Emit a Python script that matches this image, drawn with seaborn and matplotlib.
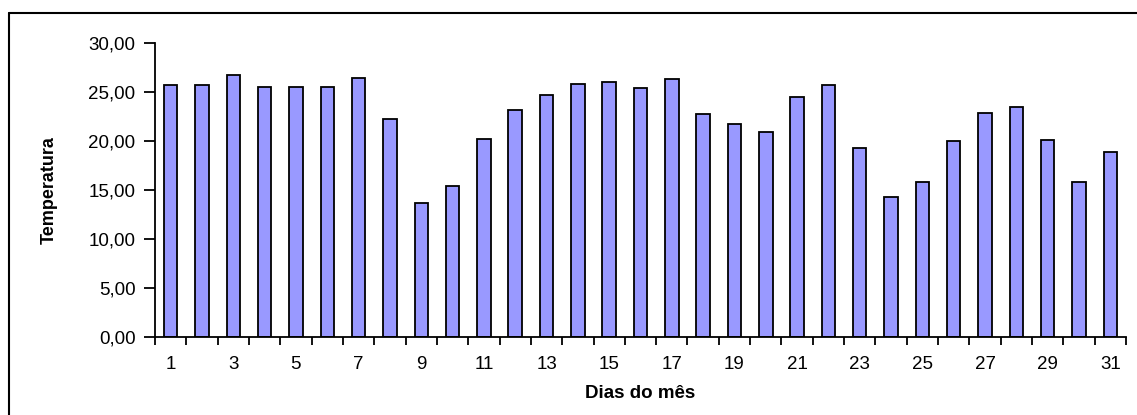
import matplotlib
matplotlib.use('Agg')
import matplotlib.pyplot as plt
import matplotlib.lines as mlines
from matplotlib.ticker import FixedLocator, FuncFormatter
import seaborn as sns
import pandas as pd

# ***************************************************

dias = list(range(1, 32))
temperatura = [25.7, 25.7, 26.7, 25.5, 25.5, 25.5, 26.4, 22.2, 13.7, 15.4,
               20.2, 23.2, 24.7, 25.8, 26.0, 25.4, 26.3, 22.8, 21.7, 20.9,
               24.5, 25.7, 19.3, 14.3, 15.8, 20.0, 22.9, 23.5, 20.1, 15.8,
               18.9]
yticks = [0, 5, 10, 15, 20, 25, 30]

df = pd.DataFrame({'dia': dias, 'temp': temperatura})

# ***************************************************

sns.set_style('white')
plt.rcParams['font.family'] = ['Liberation Sans', 'DejaVu Sans']
plt.rcParams['text.color'] = 'black'
plt.rcParams['xtick.color'] = 'black'
plt.rcParams['ytick.color'] = 'black'
plt.rcParams['axes.labelcolor'] = 'black'

fig = plt.figure(figsize=(11.37, 4.15), dpi=100)
ax = fig.add_axes([155/1137, 1-337/415, (1126-155)/1137, (337-43)/415])

sns.barplot(data=df, x='dia', y='temp', color='#9999ff', saturation=1,
            width=0.43, edgecolor='black', linewidth=1.3, ax=ax)

ax.set_ylim(0, 30)
ax.set_xlim(-0.5, len(dias) - 0.5)
ax.yaxis.set_major_locator(FixedLocator(yticks))
ax.yaxis.set_major_formatter(FuncFormatter(lambda v, p: f'{v:.2f}'.replace('.', ',')))

# odd day labels at bar centres, tick marks between categories
ax.set_xticks(range(len(dias)))
ax.set_xticklabels([str(d) if d % 2 == 1 else '' for d in dias])
ax.tick_params(axis='x', which='major', length=0, pad=14, labelsize=13.5)
ax.set_xticks([i - 0.5 for i in range(len(dias) + 1)], minor=True)
ax.tick_params(axis='x', which='minor', bottom=True, direction='out', length=6,
               width=1.3, color='black')
ax.tick_params(axis='y', direction='out', length=8, width=1.3, color='black',
               labelsize=13.5, pad=6, left=True)

for s in ['top', 'right']:
    ax.spines[s].set_visible(False)
for s in ['left', 'bottom']:
    ax.spines[s].set_color('black')
    ax.spines[s].set_linewidth(1.3)

ax.set_xlabel('Dias do mês', fontsize=13.5, fontweight='bold', labelpad=8)
ax.set_ylabel('Temperatura', fontsize=13, fontweight='bold', labelpad=22,
              family=['Liberation Sans Narrow', 'Liberation Sans', 'DejaVu Sans'])

# outer frame (only top and left visible)
fig.add_artist(mlines.Line2D([8.5/1137, 8.5/1137], [0, 1-13.5/415], color='black', lw=1.5))
fig.add_artist(mlines.Line2D([8.5/1137, 1], [1-13.5/415, 1-13.5/415], color='black', lw=1.5))

fig.savefig('out.png', dpi=100)
